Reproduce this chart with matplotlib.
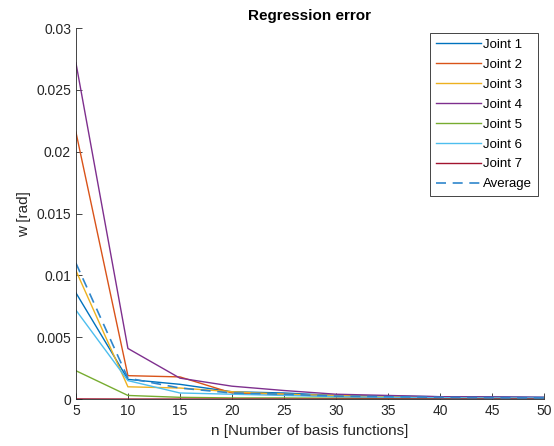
import matplotlib.pyplot as plt
import numpy as np

plt.rcParams['font.family'] = ['Liberation Sans', 'DejaVu Sans']

# Number of basis functions
n = [5, 10, 15, 20, 25, 30, 35, 40, 45, 50]

# Regression error per joint
joint1 = [0.0086, 0.0016, 0.0012, 0.0006, 0.0005, 0.0003, 0.00025, 0.0002, 0.00018, 0.00015]
joint2 = [0.0216, 0.0019, 0.0018, 0.0005, 0.0004, 0.0002, 0.00015, 0.0001, 0.0001, 0.0001]
joint3 = [0.0104, 0.0010, 0.0009, 0.0006, 0.0004, 0.0003, 0.0002, 0.00015, 0.00012, 0.0001]
joint4 = [0.0272, 0.0041, 0.0017, 0.00105, 0.0007, 0.0004, 0.0003, 0.0002, 0.00018, 0.00015]
joint5 = [0.0023, 0.0003, 0.00015, 0.0001, 0.0001, 0.00008, 0.00006, 0.00005, 0.00005, 0.00004]
joint6 = [0.0072, 0.0015, 0.0005, 0.0004, 0.0003, 0.0002, 0.00015, 0.00012, 0.0001, 0.0001]
joint7 = [0.00002, 0.00001, 0.00001, 0.00001, 0.00001, 0.00001, 0.00001, 0.00001, 0.00001, 0.00001]
average = [0.0110, 0.0017, 0.0009, 0.0005, 0.0004, 0.00025, 0.0002, 0.00015, 0.00012, 0.0001]

colors = ['#0072BD', '#D95319', '#EDB120', '#7E2F8E', '#77AC30', '#4DBEEE', '#A2142F']
joints = [joint1, joint2, joint3, joint4, joint5, joint6, joint7]

fig = plt.figure(figsize=(5.54, 4.46), dpi=100)
ax = fig.add_axes([0.137, 0.105, 0.845, 0.832])

for i, vals in enumerate(joints):
    ax.plot(n, vals, color=colors[i], linewidth=1.0, label='Joint %d' % (i + 1))
ax.plot(n, average, color='#2F86CC', linestyle=(0, (6, 4)), linewidth=1.2, label='Average')

ax.set_xlim(5, 50)
ax.set_ylim(0, 0.03)
ax.set_xticks(np.arange(5, 51, 5))
ax.set_yticks(np.arange(0, 0.0301, 0.005))
ax.set_yticklabels(['0', '0.005', '0.01', '0.015', '0.02', '0.025', '0.03'])
ax.tick_params(direction='in', labelsize=10, colors='#262626', length=4, width=0.6)
ax.spines['top'].set_visible(False)
ax.spines['right'].set_visible(False)
for s in ['left', 'bottom']:
    ax.spines[s].set_color('#262626')
    ax.spines[s].set_linewidth(0.6)

ax.set_title('Regression error', fontsize=11, fontweight='bold')
ax.set_xlabel('n [Number of basis functions]', fontsize=11, color='#262626')
ax.set_ylabel('w [rad]', fontsize=11, color='#262626')

leg = ax.legend(loc='upper right', fontsize=9.5, fancybox=False, framealpha=1,
                edgecolor='#262626', handlelength=3.4, handletextpad=0.15,
                labelspacing=0.58, borderpad=0.45, borderaxespad=0,
                bbox_to_anchor=(0.987, 0.987))
leg.get_frame().set_linewidth(0.6)

plt.savefig('out.png', dpi=100)
